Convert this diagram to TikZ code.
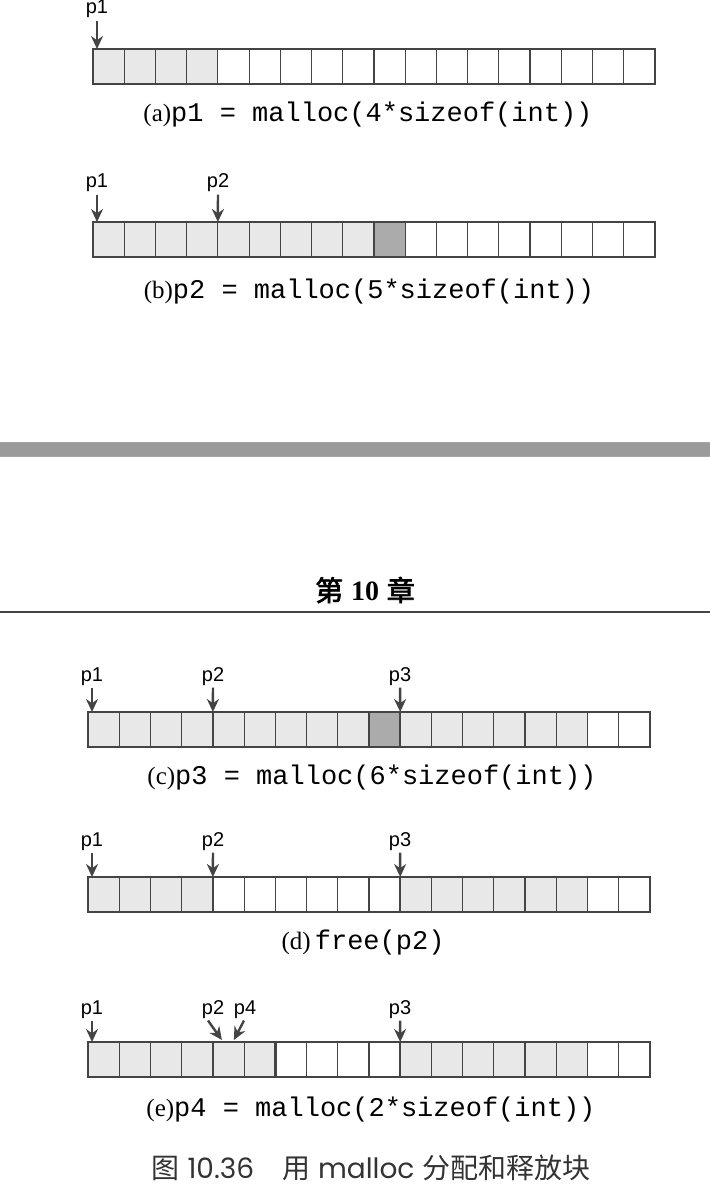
\documentclass[tikz,border=0pt]{standalone}
\usepackage{fontspec}
\setmainfont{Liberation Serif}
\setsansfont{Liberation Sans}
\setmonofont{Liberation Mono}
\newfontfamily\cjkfont{Noto Sans CJK SC}
\newfontfamily\cjkheavy[FakeBold=2.5]{Noto Sans CJK SC}
\newfontfamily\gothfont{Poppins}
\usepackage{tikz}
\usetikzlibrary{positioning,arrows.meta}

\definecolor{framegray}{HTML}{444444}
\definecolor{usedgray}{HTML}{E8E8E8}
\definecolor{padgray}{HTML}{ABABAB}
\definecolor{bandgray}{HTML}{9B9B9B}
\definecolor{captiongray}{HTML}{333333}

\tikzset{
	frame/.style={draw=framegray, line width=1.2pt},
	cellline/.style={draw=framegray, line width=0.6pt},
	used/.style={fill=usedgray},
	padded/.style={fill=padgray},
	ptrlabel/.style={font=\sffamily\fontsize{10}{11}\selectfont, inner sep=1pt, anchor=base},
	ptr/.style={draw=framegray, line width=1.2pt, -{Stealth[length=6.5pt,width=6pt]}},
	caption/.style={font=\fontsize{12.5}{14}\selectfont, inner sep=0pt}
}

\newcommand{\cellw}{31.22}
\newcommand{\cellh}{35}
% 18 words of heap, drawn at the scope origin
\newcommand{\heapcells}{%
	\foreach \i in {1,...,17} { \draw[cellline] (\i*\cellw,0) -- ++(0,\cellh); }
	\draw[frame] (0,0) rectangle (18*\cellw,\cellh);
}
\newcommand{\blockedge}[1]{\draw[frame] (#1*\cellw,0) -- ++(0,\cellh);}
\newcommand{\code}[1]{\texttt{\fontsize{13.5}{14}\selectfont #1}}

\begin{document}
\begin{tikzpicture}[x=0.5pt,y=-0.5pt]
	\useasboundingbox (0,0) rectangle (710,1202);
	
	% (a)
	\begin{scope}[shift={(93,49)}]
		\fill[used] (0,0) rectangle (4*\cellw,\cellh);
		\heapcells
		\coordinate (ta1) at (4,0);
	\end{scope}
	\node[ptrlabel] (p1a) at (97,14) {p1};
	\draw[ptr] (p1a) -- (ta1);
	\node[caption] (capa) at (368,115) {(a)\code{p1 = malloc(4*sizeof(int))}};
	
	% (b)
	\begin{scope}[shift={(93,222)}]
		\fill[used] (0,0) rectangle (9*\cellw,\cellh);
		\fill[padded] (9*\cellw,0) rectangle (10*\cellw,\cellh);
		\heapcells
		\coordinate (tb1) at (4,0);
		\coordinate (tb2) at (4*\cellw,0);
	\end{scope}
	\node[ptrlabel] (p1b) at (97,188) {p1};
	\node[ptrlabel] (p2b) at (218,188) {p2};
	\draw[ptr] (p1b) -- (tb1);
	\draw[ptr] (p2b) -- (tb2);
	\node[caption] (capb) at (369,292) {(b)\code{p2 = malloc(5*sizeof(int))}};
	
	% page break
	\fill[bandgray] (0,443) rectangle (710,457);
	\draw[black!35, line width=0.5pt] (0,443) -- (710,443) (0,457) -- (710,457);
	\node[font=\fontsize{14}{16}\selectfont] (chap) at (365,590) {{\cjkheavy 第}\;\textbf{10}\;{\cjkheavy 章}};
	\draw[framegray, line width=1pt] (0,612) -- (710,612);
	
	% (c)
	\begin{scope}[shift={(88,712)}]
		\fill[used] (0,0) rectangle (9*\cellw,\cellh);
		\fill[padded] (9*\cellw,0) rectangle (10*\cellw,\cellh);
		\fill[used] (10*\cellw,0) rectangle (16*\cellw,\cellh);
		\heapcells
		\blockedge{4} \blockedge{10}
		\coordinate (tc1) at (4,0);
		\coordinate (tc2) at (4*\cellw,0);
		\coordinate (tc3) at (10*\cellw,0);
	\end{scope}
	\node[ptrlabel] (p1c) at (92,681) {p1};
	\node[ptrlabel] (p2c) at (213,681) {p2};
	\node[ptrlabel] (p3c) at (400,681) {p3};
	\draw[ptr] (p1c) -- (tc1);
	\draw[ptr] (p2c) -- (tc2);
	\draw[ptr] (p3c) -- (tc3);
	\node[caption] (capc) at (372,778) {(c)\code{p3 = malloc(6*sizeof(int))}};
	
	% (d)
	\begin{scope}[shift={(88,877)}]
		\fill[used] (0,0) rectangle (4*\cellw,\cellh);
		\fill[used] (10*\cellw,0) rectangle (16*\cellw,\cellh);
		\heapcells
		\blockedge{4} \blockedge{10}
		\coordinate (td1) at (4,0);
		\coordinate (td2) at (4*\cellw,0);
		\coordinate (td3) at (10*\cellw,0);
	\end{scope}
	\node[ptrlabel] (p1d) at (92,846) {p1};
	\node[ptrlabel] (p2d) at (213,846) {p2};
	\node[ptrlabel] (p3d) at (400,846) {p3};
	\draw[ptr] (p1d) -- (td1);
	\draw[ptr] (p2d) -- (td2);
	\draw[ptr] (p3d) -- (td3);
	\node[caption] (capd) at (363,943) {(d)\,\code{free(p2)}};
	
	% (e)
	\begin{scope}[shift={(88,1042)}]
		\fill[used] (0,0) rectangle (6*\cellw,\cellh);
		\fill[used] (10*\cellw,0) rectangle (16*\cellw,\cellh);
		\heapcells
		\blockedge{4} \blockedge{6} \blockedge{10}
		\coordinate (te1) at (4,0);
		\coordinate (te2) at (4*\cellw+9,-2);
		\coordinate (te4) at (4*\cellw+21,-2);
		\coordinate (te3) at (10*\cellw,0);
	\end{scope}
	\node[ptrlabel] (p1e) at (92,1014) {p1};
	\node[ptrlabel] (p2e) at (213,1014) {p2};
	\node[ptrlabel] (p4e) at (245,1014) {p4};
	\node[ptrlabel] (p3e) at (400,1014) {p3};
	\draw[ptr] (p1e) -- (te1);
	\draw[ptr] ([xshift=-2.5pt]p2e.south) -- (te2);
	\draw[ptr] ([xshift=-0.5pt]p4e.south) -- (te4);
	\draw[ptr] (p3e) -- (te3);
	\node[caption] (cape) at (371,1110) {(e)\code{p4 = malloc(2*sizeof(int))}};
	
	\node[font=\fontsize{14}{16}\selectfont, text=captiongray] (figcap) at (371,1168)
		{{\cjkfont 图}\;{\gothfont 10.36}\quad{\cjkfont 用}\;{\gothfont malloc}\;{\cjkfont 分配和释放块}};
\end{tikzpicture}
\end{document}
